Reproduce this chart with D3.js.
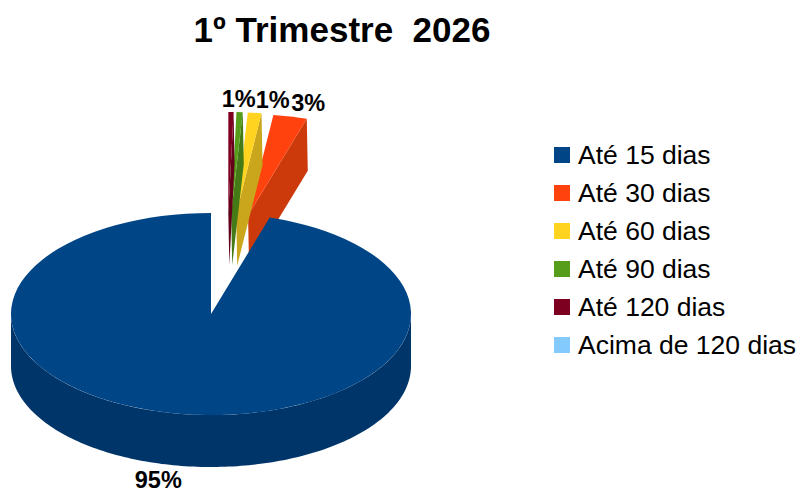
<!DOCTYPE html>
<html><head><meta charset="utf-8">
<script src="https://cdn.jsdelivr.net/npm/d3@7"></script>
<style>html,body{margin:0;padding:0;background:#fff}svg{display:block}text{font-family:"Liberation Sans",Arial,sans-serif}</style>
</head><body><svg id="c" width="801" height="493"></svg>
<script>
const chartTitle = "1º Trimestre  2026";
const categories = ["Até 15 dias","Até 30 dias","Até 60 dias","Até 90 dias","Até 120 dias","Acima de 120 dias"];
const values = [95.26, 2.72, 1.1, 0.5, 0.42, 0];
const colors = ["#004586","#ff420e","#ffd320","#579d1c","#7e0021","#83caff"];
const darkColors = ["#00356a","#cc3a0b","#c9a61c","#447b16","#63001a","#6aa2cc"];

const W=801,H=493, cx=211, cy=314, rx=200, ry=101, depth=52;
const svg=d3.select("#c");
const scaleY=ry/rx;
const explodeShift=16, explodeX=0.5*rx, explodeY=ry;

svg.append("text").attr("x",342).attr("y",42).attr("text-anchor","middle")
  .attr("font-size",35).attr("font-weight","bold").attr("fill","#000").style("white-space","pre").text(chartTitle);

const pie=d3.pie().sort(null).value(d=>d).startAngle(0).endAngle(-2*Math.PI);
const arcs=pie(values).map((a,i)=>({...a,i,
  hi:Math.max(a.startAngle,a.endAngle)+2*Math.PI,
  lo:Math.min(a.startAngle,a.endAngle)+2*Math.PI}));
const arcGen=d3.arc().innerRadius(0).outerRadius(rx);
const pt=(o,t,dy=0)=>[o[0]+rx*Math.sin(t),o[1]-ry*Math.cos(t)+dy];
const origin=d=>d.i===0?[cx,cy]:[cx+explodeShift+explodeX*Math.sin((d.lo+d.hi)/2),cy-explodeY*Math.cos((d.lo+d.hi)/2)];
const line=d3.line();

// exploded slices, then the main slice on top
const small=arcs.filter(d=>d.i>0 && d.value>0);
const g=svg.append("g");
small.forEach(d=>{
  const o=origin(d);
  const hiPt=pt(o,d.hi);
  g.append("path").attr("fill",darkColors[d.i])
    .attr("d",line([o,hiPt,[hiPt[0]+1,hiPt[1]+depth],[o[0]+1,o[1]+depth]])+"Z");
  g.append("path").attr("fill",colors[d.i])
    .attr("transform",`translate(${o[0]},${o[1]}) scale(1,${scaleY})`)
    .attr("d",arcGen({startAngle:d.lo,endAngle:d.hi}));
});

// main slice: rim then top face
const main=arcs[0];
const rimA=d3.range(Math.PI/2,3*Math.PI/2+0.001,0.02);
const rimTop=rimA.map(t=>pt([cx,cy],t));
const rimBot=rimA.map(t=>pt([cx,cy],t,depth)).reverse();
svg.append("path").attr("fill",darkColors[0]).attr("d",line(rimTop.concat(rimBot))+"Z");
svg.append("path").attr("fill",colors[0])
  .attr("transform",`translate(${cx},${cy}) scale(1,${scaleY})`)
  .attr("d",arcGen({startAngle:main.lo,endAngle:main.hi}));

// data labels
const labelNudge={0:[-23,22],1:[18,-6],2:[18,-5],3:[-1,-5]};
arcs.forEach(d=>{
  const pct=Math.round(d.value);
  if(pct<1) return;
  const o=origin(d), m=(d.lo+d.hi)/2;
  const p=pt(o,m,d.i===0?depth:0), n=labelNudge[d.i];
  svg.append("text").attr("x",p[0]+n[0]).attr("y",p[1]+n[1]).attr("text-anchor","middle")
    .attr("font-size",23.5).attr("font-weight","bold").attr("fill","#000").text(pct+"%");
});

// legend
const y=d3.scalePoint().domain(categories).range([155,345]);
const lg=svg.append("g").selectAll("g").data(categories).join("g").attr("transform",d=>`translate(554,${y(d)})`);
lg.append("rect").attr("x",0).attr("y",-8).attr("width",16).attr("height",16).attr("fill",(d,i)=>colors[i]);
lg.append("text").attr("x",24).attr("y",9).attr("font-size",26.5).attr("fill","#000").text(d=>d);
</script></body></html>
